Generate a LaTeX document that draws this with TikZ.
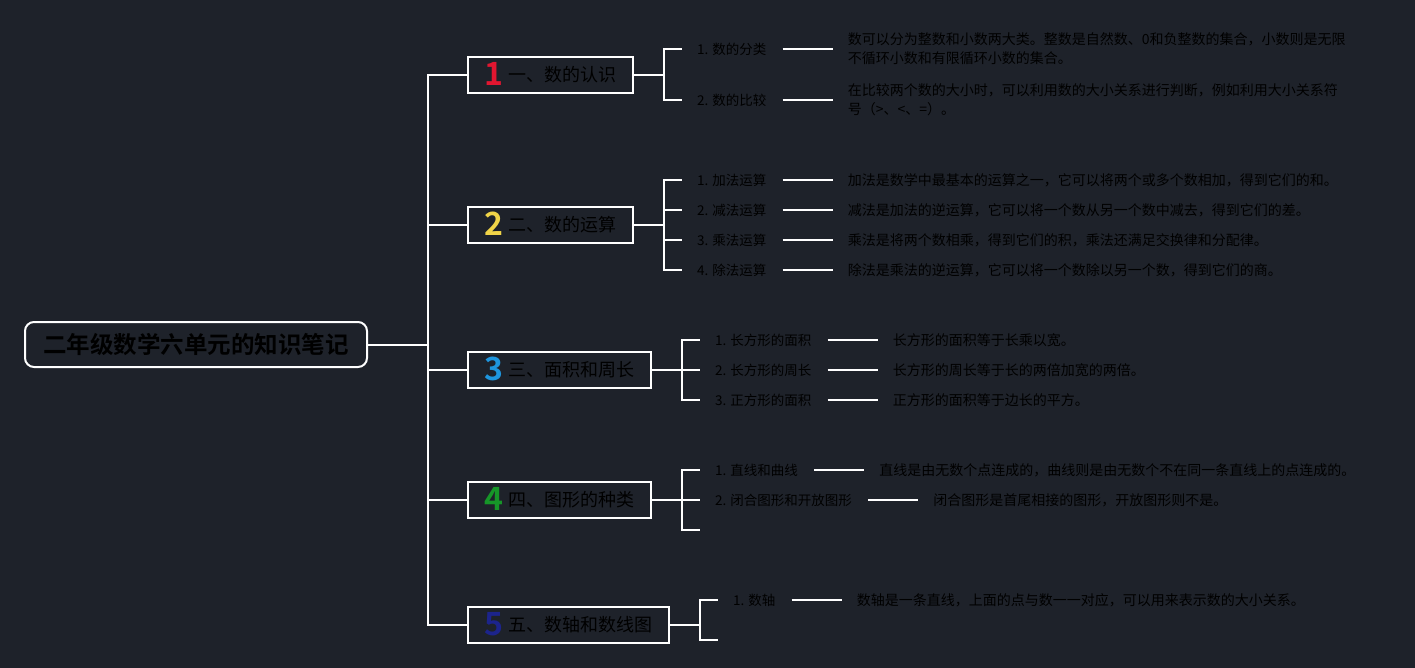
\documentclass[tikz,border=0pt]{standalone}
\usepackage{fontspec}
\setmainfont{Noto Sans CJK SC}[BoldFont={Noto Sans CJK SC Bold}]
\newfontfamily\numfont{Noto Sans CJK SC Bold}
\usetikzlibrary{positioning}

\definecolor{bg}{RGB}{30,34,42}
\definecolor{numone}{RGB}{226,22,48}
\definecolor{numtwo}{RGB}{240,212,72}
\definecolor{numthree}{RGB}{30,150,222}
\definecolor{numfour}{RGB}{22,150,40}
\definecolor{numfive}{RGB}{28,36,140}

\newcommand{\topicnum}[2]{\smash{\raisebox{-4pt}{\color{#1}\numfont\fontsize{32}{32}\selectfont #2}}\hspace{6pt}}

\tikzset{
  link/.style={draw=white, line width=2pt},
  rootbox/.style={draw=white, line width=2pt, rounded corners=9pt, minimum width=342pt, minimum height=45pt, inner sep=0pt, text=black, font=\bfseries\fontsize{23.5}{26}\selectfont},
  topic/.style={draw=white, line width=2pt, anchor=west, minimum height=36pt, inner sep=0pt, text=black, font=\fontsize{18}{20}\selectfont},
  item/.style={inner sep=0pt, text=black, font=\fontsize{13.5}{16}\selectfont},
  note/.style={inner sep=0pt, align=left, text=black, font=\fontsize{14}{19}\selectfont},
}

\begin{document}
\begin{tikzpicture}[x=1pt,y=-1pt]
% background
\fill[bg] (0,0) rectangle (1415,668);
\useasboundingbox (0,0) rectangle (1415,668);

% root and trunk
\node[rootbox] (root) at (196,344.5) {二年级数学六单元的知识笔记};
\coordinate (trunk) at (428,344.5);
\draw[link] (root.east) -- (trunk);

% topics
\node[topic, minimum width=165pt] (t1) at (467,75) {\topicnum{numone}{1}一、数的认识};
\node[topic, minimum width=165pt] (t2) at (467,225) {\topicnum{numtwo}{2}二、数的运算};
\node[topic, minimum width=183pt] (t3) at (467,370) {\topicnum{numthree}{3}三、面积和周长};
\node[topic, minimum width=183pt] (t4) at (467,500) {\topicnum{numfour}{4}四、图形的种类};
\node[topic, minimum width=201pt] (t5) at (467,624.5) {\topicnum{numfive}{5}五、数轴和数线图};
\draw[link] (trunk) |- (t1.west); \draw[link] (trunk) |- (t2.west);
\draw[link] (trunk) |- (t3.west); \draw[link] (trunk) |- (t4.west);
\draw[link] (trunk) |- (t5.west);

% topic 1
\draw[link] (t1.east) -- ++(30,0) coordinate (b1);
\coordinate (k11) at (682,49); \coordinate (k12) at (682,100);
\draw[link] (b1) |- (k11); \draw[link] (b1) |- (k12);
\node[item, right=15pt of k11] (i11) {1. 数的分类};
\draw[link] ([xshift=16pt]i11.east) -- ++(50,0) coordinate (d11);
\node[note, right=15pt of d11] (n11) {数可以分为整数和小数两大类。整数是自然数、0和负整数的集合，小数则是无限\\不循环小数和有限循环小数的集合。};
\node[item, right=15pt of k12] (i12) {2. 数的比较};
\draw[link] ([xshift=16pt]i12.east) -- ++(50,0) coordinate (d12);
\node[note, right=15pt of d12] (n12) {在比较两个数的大小时，可以利用数的大小关系进行判断，例如利用大小关系符\\号（>、<、=）。};

% topic 2
\draw[link] (t2.east) -- ++(30,0) coordinate (b2);
\coordinate (k21) at (682,180); \coordinate (k22) at (682,210);
\coordinate (k23) at (682,240); \coordinate (k24) at (682,270);
\draw[link] (b2) |- (k21); \draw[link] (b2) |- (k22);
\draw[link] (b2) |- (k23); \draw[link] (b2) |- (k24);
\node[item, right=15pt of k21] (i21) {1. 加法运算};
\draw[link] ([xshift=16pt]i21.east) -- ++(50,0) coordinate (d21);
\node[note, right=15pt of d21] (n21) {加法是数学中最基本的运算之一，它可以将两个或多个数相加，得到它们的和。};
\node[item, right=15pt of k22] (i22) {2. 减法运算};
\draw[link] ([xshift=16pt]i22.east) -- ++(50,0) coordinate (d22);
\node[note, right=15pt of d22] (n22) {减法是加法的逆运算，它可以将一个数从另一个数中减去，得到它们的差。};
\node[item, right=15pt of k23] (i23) {3. 乘法运算};
\draw[link] ([xshift=16pt]i23.east) -- ++(50,0) coordinate (d23);
\node[note, right=15pt of d23] (n23) {乘法是将两个数相乘，得到它们的积，乘法还满足交换律和分配律。};
\node[item, right=15pt of k24] (i24) {4. 除法运算};
\draw[link] ([xshift=16pt]i24.east) -- ++(50,0) coordinate (d24);
\node[note, right=15pt of d24] (n24) {除法是乘法的逆运算，它可以将一个数除以另一个数，得到它们的商。};

% topic 3
\draw[link] (t3.east) -- ++(30,0) coordinate (b3);
\coordinate (k31) at (700,340); \coordinate (k32) at (700,370); \coordinate (k33) at (700,400);
\draw[link] (b3) |- (k31); \draw[link] (b3) |- (k32); \draw[link] (b3) |- (k33);
\node[item, right=15pt of k31] (i31) {1. 长方形的面积};
\draw[link] ([xshift=16pt]i31.east) -- ++(50,0) coordinate (d31);
\node[note, right=15pt of d31] (n31) {长方形的面积等于长乘以宽。};
\node[item, right=15pt of k32] (i32) {2. 长方形的周长};
\draw[link] ([xshift=16pt]i32.east) -- ++(50,0) coordinate (d32);
\node[note, right=15pt of d32] (n32) {长方形的周长等于长的两倍加宽的两倍。};
\node[item, right=15pt of k33] (i33) {3. 正方形的面积};
\draw[link] ([xshift=16pt]i33.east) -- ++(50,0) coordinate (d33);
\node[note, right=15pt of d33] (n33) {正方形的面积等于边长的平方。};

% topic 4
\draw[link] (t4.east) -- ++(30,0) coordinate (b4);
\coordinate (k41) at (700,470); \coordinate (k42) at (700,500); \coordinate (k43) at (700,530);
\draw[link] (b4) |- (k41); \draw[link] (b4) |- (k42); \draw[link] (b4) |- (k43);
\node[item, right=15pt of k41] (i41) {1. 直线和曲线};
\draw[link] ([xshift=16pt]i41.east) -- ++(50,0) coordinate (d41);
\node[note, right=15pt of d41] (n41) {直线是由无数个点连成的，曲线则是由无数个不在同一条直线上的点连成的。};
\node[item, right=15pt of k42] (i42) {2. 闭合图形和开放图形};
\draw[link] ([xshift=16pt]i42.east) -- ++(50,0) coordinate (d42);
\node[note, right=15pt of d42] (n42) {闭合图形是首尾相接的图形，开放图形则不是。};

% topic 5
\draw[link] (t5.east) -- ++(30,0) coordinate (b5);
\coordinate (k51) at (718,600); \coordinate (k52) at (718,640);
\draw[link] (b5) |- (k51); \draw[link] (b5) |- (k52);
\node[item, right=15pt of k51] (i51) {1. 数轴};
\draw[link] ([xshift=16pt]i51.east) -- ++(50,0) coordinate (d51);
\node[note, right=15pt of d51] (n51) {数轴是一条直线，上面的点与数一一对应，可以用来表示数的大小关系。};
\end{tikzpicture}
\end{document}
